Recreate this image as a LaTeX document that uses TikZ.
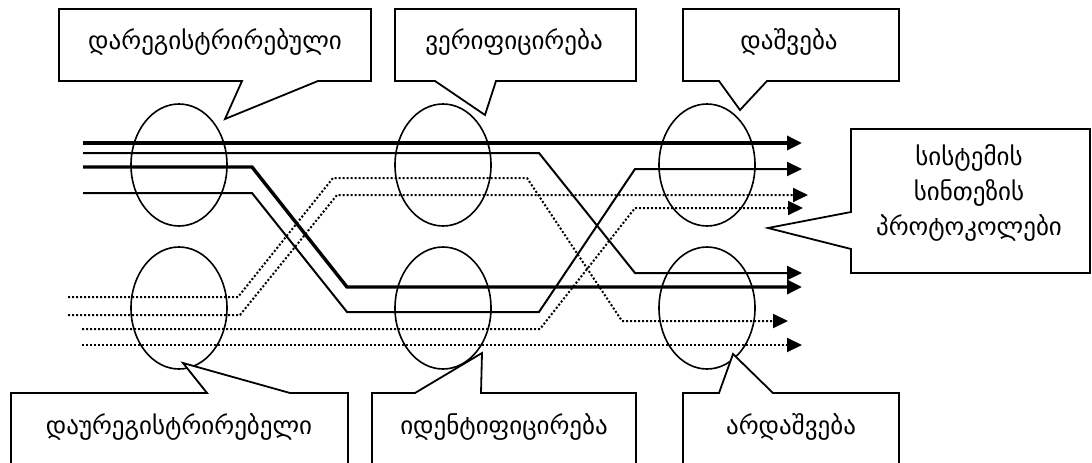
\documentclass[tikz,border=0pt]{standalone}
\usepackage{fontspec}
\setmainfont{DejaVu Sans}
\usetikzlibrary{arrows.meta,shapes.geometric}
\begin{document}
\begin{tikzpicture}[x=1pt,y=-1pt,
  callout/.style={draw=black,line width=1.8pt,line join=miter,fill=white},
  lbl/.style={font=\fontsize{25}{35}\selectfont,inner sep=0pt,align=center},
  oval/.style={ellipse,draw=black,line width=1.6pt,minimum width=96pt,minimum height=122pt,inner sep=0pt},
  thickln/.style={line width=3.4pt,-{Triangle[length=15pt,width=14pt]}},
  thinln/.style={line width=2pt,-{Triangle[length=15pt,width=14pt]}},
  dotln/.style={line width=2pt,dash pattern=on 2pt off 2pt,-{Triangle[length=15pt,width=14pt]}},
]
\useasboundingbox (0,0) rectangle (1092,463);

% ellipses
\node[oval] (e1) at (179,165) {};
\node[oval] (e2) at (443,165) {};
\node[oval] (e3) at (707,165) {};
\node[oval] (e4) at (179,308) {};
\node[oval] (e5) at (443,308) {};
\node[oval] (e6) at (707,308) {};

% start and end coordinates
\coordinate (s1) at (83,143);  \coordinate (a1) at (802,143);
\coordinate (s2) at (83,153);  \coordinate (a2) at (802,273);
\coordinate (s3) at (83,167);  \coordinate (a3) at (802,287);
\coordinate (s4) at (83,193);  \coordinate (a4) at (802,169);
\coordinate (d1s) at (68,297); \coordinate (d1e) at (788,321);
\coordinate (d2s) at (68,315); \coordinate (d2e) at (808,195);
\coordinate (d3s) at (82,329); \coordinate (d3e) at (803,208);
\coordinate (d4s) at (82,345); \coordinate (d4e) at (802,345);

% solid flows
\draw[thickln] (s1) -- (a1);
\draw[thinln] (s2) -- (539,153) -- (635,273) -- (a2);
\draw[thickln] (s3) -- (252,167) -- (347,287) -- (a3);
\draw[thinln] (s4) -- (252,193) -- (347,312) -- (539,312) -- (635,169) -- (a4);

% dotted flows
\draw[dotln] (d1s) -- (238,297) -- (333,178) -- (527,178) -- (622,321) -- (d1e);
\draw[dotln] (d2s) -- (240,315) -- (337,195) -- (d2e);
\draw[dotln] (d3s) -- (540,329) -- (635,208) -- (d3e);
\draw[dotln] (d4s) -- (d4e);

% callouts
\draw[callout] (59,9) -- (371,9) -- (371,81) -- (318,81) -- (225,119) -- (242,81) -- (59,81) -- cycle;
\draw[callout] (395,9) -- (636,9) -- (636,81) -- (496,81) -- (485,115) -- (435,81) -- (395,81) -- cycle;
\draw[callout] (683,9) -- (899,9) -- (899,81) -- (767,81) -- (740,110) -- (719,81) -- (683,81) -- cycle;
\draw[callout] (851,129) -- (1090,129) -- (1090,273) -- (851,273) -- (851,249) -- (768,228) -- (851,212) -- cycle;
\draw[callout] (11,466) -- (11,393) -- (207,393) -- (183,363) -- (290,393) -- (348,393) -- (348,466);
\draw[callout] (372,466) -- (372,393) -- (415,393) -- (482,353) -- (481,393) -- (636,393) -- (636,466);
\draw[callout] (683,466) -- (683,393) -- (719,393) -- (733,354) -- (773,393) -- (899,393) -- (899,466);

% labels
\node[lbl] (t1) at (215,42) {დარეგისტრირებული};
\node[lbl] (t2) at (514,42) {ვერიფიცირება};
\node[lbl] (t3) at (789,42) {დაშვება};
\node[lbl] (t4) at (969,193) {სისტემის\\სინთეზის\\პროტოკოლები};
\node[lbl] (t5) at (179,427) {დაურეგისტრირებელი};
\node[lbl] (t6) at (504,427) {იდენტიფიცირება};
\node[lbl] (t7) at (791,427) {არდაშვება};
\end{tikzpicture}
\end{document}
